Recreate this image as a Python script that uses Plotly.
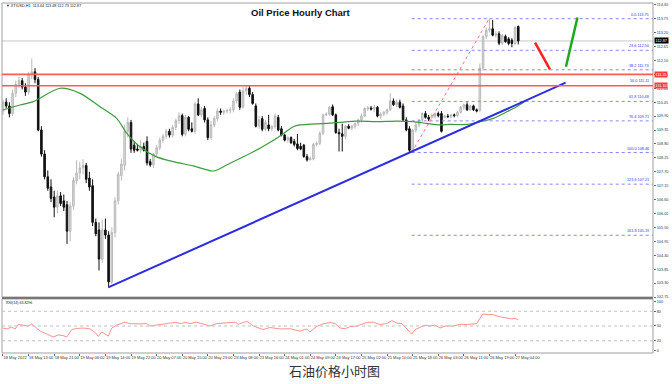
import plotly.graph_objects as go

# ---------------- data ----------------
opens = [110.10, 110.45, 110.30, 110.00, 110.80, 111.15, 111.30, 111.05, 110.85, 111.55,
         111.65, 111.35, 109.35, 108.40, 107.50, 107.10, 106.70, 106.30, 106.75, 106.55,
         106.40, 105.35, 106.35, 107.35, 107.65, 107.85, 107.95, 107.45, 107.15, 105.70,
         105.40, 104.25, 105.40, 105.20, 103.35, 105.30, 106.55, 107.55, 107.95, 109.30,
         109.65, 108.75, 108.60, 108.55, 108.70, 108.90, 108.10, 107.97, 108.40, 108.65,
         108.95, 109.10, 109.30, 109.15, 109.45, 109.72, 109.92, 109.18, 109.85, 109.40,
         109.30, 110.38, 109.95, 110.20, 109.75, 109.05, 109.55, 109.80, 110.10, 110.05,
         110.10, 110.12, 110.15, 110.50, 110.85, 110.25, 110.90, 111.00, 110.75, 110.30,
         109.50, 109.80, 109.38, 109.55, 109.40, 109.48, 109.85, 109.40, 109.15, 108.95,
         109.05, 108.90, 108.80, 108.70, 108.75, 108.30, 108.17, 108.20, 108.78, 108.82,
         109.22, 109.95, 109.97, 110.27, 109.95, 109.25, 109.20, 109.10, 109.50, 109.42,
         109.50, 109.60, 109.75, 109.90, 110.20, 110.22, 110.18, 110.25, 109.90, 109.98,
         110.05, 110.15, 110.50, 110.35, 110.45, 110.30, 109.75, 109.40, 108.55, 109.35,
         109.55, 109.75, 110.00, 109.85, 109.85, 109.88, 110.00, 110.00, 109.85, 109.90,
         109.88, 109.95, 109.92, 110.05, 110.25, 110.35, 110.15, 110.30, 110.15, 110.12,
         111.80, 113.04, 113.30, 113.35, 113.10, 113.15, 112.78, 113.05, 112.95, 112.90,
         112.77, 113.44]
highs = [110.55, 110.60, 110.45, 110.95, 111.30, 111.45, 111.40, 111.20, 111.65, 112.18,
         111.80, 111.45, 109.50, 108.55, 107.75, 107.40, 106.95, 106.95, 106.90, 106.80,
         106.55, 106.50, 107.50, 108.15, 108.10, 108.20, 108.05, 107.70, 107.40, 105.85,
         105.70, 105.80, 105.85, 105.35, 105.50, 106.70, 107.70, 108.20, 109.55, 109.85,
         109.75, 108.90, 108.80, 108.95, 108.85, 109.10, 108.20, 108.45, 108.75, 109.05,
         109.20, 109.40, 109.40, 109.55, 109.80, 110.05, 110.00, 109.95, 109.90, 109.65,
         110.45, 110.60, 110.25, 110.30, 109.85, 109.70, 109.90, 110.20, 110.20, 110.15,
         110.20, 110.25, 110.60, 110.85, 110.95, 111.05, 111.13, 111.10, 110.85, 110.40,
         109.90, 109.90, 109.75, 109.95, 109.55, 110.00, 109.95, 109.50, 109.20, 109.10,
         109.10, 109.00, 109.20, 108.85, 108.80, 108.40, 108.30, 108.85, 108.90, 109.30,
         110.00, 110.05, 110.30, 110.36, 110.00, 109.40, 109.60, 109.55, 109.58, 109.55,
         109.65, 109.80, 110.00, 110.25, 110.30, 110.30, 110.35, 110.30, 110.05, 110.10,
         110.20, 110.80, 110.60, 110.55, 110.55, 110.40, 109.85, 109.50, 109.40, 109.65,
         109.80, 110.05, 110.10, 109.95, 110.00, 110.05, 110.08, 110.10, 109.95, 109.98,
         109.98, 110.00, 110.10, 110.30, 110.40, 110.45, 110.35, 110.35, 110.20, 111.98,
         113.10, 113.40, 113.75, 113.70, 113.25, 113.25, 113.15, 113.12, 113.02, 112.98,
         113.45, 113.48]
lows = [109.95, 110.20, 109.85, 109.90, 110.65, 111.00, 110.95, 110.70, 110.75, 111.35,
        111.20, 109.30, 108.30, 107.40, 106.95, 106.50, 105.90, 106.05, 106.35, 106.15,
        104.85, 104.95, 106.20, 107.20, 107.40, 107.60, 107.25, 106.95, 105.55, 105.15,
        103.80, 104.10, 105.05, 103.13, 103.25, 105.10, 106.40, 107.35, 107.75, 109.05,
        108.45, 108.45, 108.50, 108.45, 108.50, 107.95, 107.90, 107.85, 108.30, 108.55,
        108.85, 109.00, 109.05, 109.05, 109.35, 109.60, 109.10, 109.10, 109.30, 109.25,
        109.20, 109.90, 109.85, 109.65, 108.95, 108.95, 109.45, 109.70, 109.95, 109.95,
        110.00, 110.00, 110.05, 110.40, 110.15, 110.20, 110.75, 110.65, 110.35, 109.45,
        109.40, 109.30, 109.30, 109.30, 109.30, 109.40, 109.30, 109.10, 108.90, 108.85,
        108.80, 108.70, 108.55, 108.55, 108.25, 108.10, 108.15, 108.15, 108.70, 108.75,
        109.15, 109.90, 109.92, 109.90, 109.20, 108.50, 108.50, 109.00, 109.38, 109.35,
        109.40, 109.50, 109.65, 109.85, 110.10, 110.12, 110.05, 109.85, 109.80, 109.90,
        109.95, 110.10, 110.30, 110.25, 110.20, 109.70, 109.30, 108.46, 108.50, 109.25,
        109.45, 109.65, 109.80, 109.70, 109.80, 109.80, 109.85, 109.25, 109.80, 109.82,
        109.80, 109.85, 109.88, 110.00, 110.15, 110.10, 110.10, 110.10, 110.05, 110.05,
        111.70, 112.95, 113.20, 113.05, 113.00, 112.70, 112.70, 112.80, 112.70, 112.62,
        112.70, 112.73]
closes = [110.45, 110.30, 110.00, 110.80, 111.15, 111.30, 111.05, 110.85, 111.55, 111.65,
          111.35, 109.35, 108.40, 107.50, 107.05, 106.65, 106.30, 106.75, 106.45, 106.30,
          105.35, 106.35, 107.35, 107.65, 107.85, 107.95, 107.40, 107.10, 105.70, 105.25,
          104.25, 105.40, 105.20, 103.35, 105.30, 106.55, 107.60, 108.00, 109.30, 109.65,
          108.60, 108.55, 108.55, 108.70, 108.55, 108.05, 107.97, 108.40, 108.65, 108.95,
          109.10, 109.30, 109.15, 109.45, 109.72, 109.92, 109.18, 109.85, 109.38, 109.30,
          110.38, 109.95, 110.15, 109.75, 109.05, 109.55, 109.80, 110.10, 110.05, 110.10,
          110.12, 110.15, 110.50, 110.78, 110.25, 110.90, 111.00, 110.75, 110.40, 109.50,
          109.75, 109.38, 109.65, 109.40, 109.48, 109.90, 109.35, 109.15, 108.95, 109.05,
          108.85, 108.78, 108.62, 108.60, 108.30, 108.17, 108.22, 108.78, 108.82, 109.22,
          109.95, 109.97, 110.25, 109.95, 109.25, 109.20, 109.10, 109.50, 109.42, 109.50,
          109.60, 109.75, 109.90, 110.20, 110.22, 110.18, 110.25, 109.90, 109.98, 110.05,
          110.15, 110.50, 110.35, 110.45, 110.25, 109.75, 109.35, 108.55, 109.35, 109.55,
          109.75, 110.00, 109.85, 109.78, 109.92, 110.00, 109.92, 109.30, 109.90, 109.88,
          109.95, 109.92, 110.05, 110.25, 110.35, 110.15, 110.30, 110.15, 110.10, 111.80,
          113.04, 113.30, 113.35, 113.10, 113.15, 112.78, 113.08, 112.84, 112.77, 112.77,
          113.40, 112.87]

# moving average read at sampled bars
ma_bar = [0, 5.3, 9.5, 17.8, 24.1, 30.3, 35.5, 38.7, 42.8, 48.0, 53.2, 59.5, 65.7, 69.9,
          75.1, 80.3, 85.5, 90.7, 92.8, 98.0, 104.3, 110.5, 116.8, 123.0, 128.2, 132.4,
          136.6, 139.7, 144.9, 149.1, 153.2, 157.4, 160.5, 163.7]
ma_val = [110.14, 110.34, 110.47, 111.00, 110.80, 110.27, 109.81, 109.22, 108.69, 108.29,
          108.10, 107.93, 107.73, 107.97, 108.29, 108.63, 109.02, 109.48, 109.55, 109.59,
          109.64, 109.70, 109.68, 109.70, 109.68, 109.61, 109.55, 109.57, 109.57, 109.68,
          109.81, 110.07, 110.27, 110.54]

# RSI(14) read at sampled bars
rsi_bar = [0, 1.2, 2.7, 3.8, 4.8, 6.3, 7.9, 9.0, 10.0, 11.6, 13.7, 15.7, 17.3, 18.8, 19.9,
           21.5, 23.0, 25.1, 27.2, 28.8, 29.8, 30.8, 31.9, 32.9, 34.0, 35.5, 38.1, 39.7,
           42.8, 44.9, 45.9, 48.0, 51.2, 53.8, 55.8, 56.9, 58.4, 60.5, 62.1, 64.7, 66.8,
           70.9, 72.5, 73.5, 76.2, 78.2, 81.3, 83.4, 86.6, 89.7, 92.8, 94.9, 95.9, 98.0,
           99.6, 102.2, 103.8, 105.3, 106.9, 108.4, 110.5, 112.1, 113.7, 115.7, 117.8,
           119.9, 121.5, 123.0, 124.6, 126.2, 127.7, 128.8, 130.3, 131.9, 133.4, 135.0,
           136.6, 138.1, 140.7, 142.8, 144.9, 148.0, 149.9, 151.7, 153.2, 155.3, 157.4,
           159.0, 160.0, 161.0]
rsi_val = [45.8, 44.0, 47.6, 44.0, 53.0, 51.0, 50.0, 54.0, 48.7, 39.6, 33.6, 27.6, 31.8,
           30.5, 27.6, 42.7, 45.0, 45.8, 44.0, 36.7, 28.7, 37.8, 33.6, 29.4, 45.8, 51.8,
           57.8, 54.9, 54.2, 54.9, 50.0, 52.4, 54.9, 57.3, 54.9, 57.8, 54.9, 57.8, 54.9,
           50.0, 54.9, 56.0, 57.8, 53.6, 59.6, 50.0, 42.7, 46.9, 44.0, 44.5, 39.6, 44.0,
           37.8, 48.7, 53.6, 57.3, 54.9, 45.8, 44.5, 48.7, 50.0, 53.6, 57.3, 57.8, 53.0,
           54.9, 60.9, 56.0, 54.9, 44.0, 33.6, 42.7, 47.6, 51.8, 50.0, 51.8, 45.8, 50.0,
           50.0, 53.6, 53.0, 54.9, 74.2, 74.2, 73.0, 68.7, 66.9, 64.5, 65.8, 62.7]
rsi_levels = [20, 50, 80]
rsi_ticks = [0, 20, 50, 80, 100]

# time axis labels (every 8 hourly bars)
x_labels = ["18 May 2022", "18 May 13:00", "18 May 21:00", "19 May 06:00", "19 May 14:00",
            "19 May 22:00", "20 May 07:00", "20 May 15:00", "20 May 23:00", "23 May 08:00",
            "23 May 16:00", "24 May 01:00", "24 May 09:00", "24 May 17:00", "25 May 02:00",
            "25 May 10:00", "25 May 18:00", "26 May 03:00", "26 May 11:00", "26 May 19:00",
            "27 May 04:00"]
x_label_step = 8

# drawing objects
red_levels = [111.55, 111.10]
current_price = 112.87
trend_bars = [32.9, 175.8]
trend_prices = [103.13, 111.22]
fib_bars = [127.7, 151.9]
fib_prices = [108.46, 113.75]
fib_ratios = ["0.0", "23.6", "38.2", "50.0", "61.8", "76.4", "100.0", "123.6", "161.8"]
fib_levels = [113.75, 112.50, 111.73, 111.11, 110.48, 109.71, 108.46, 107.21, 105.19]
down_arrow_bars = [166.25, 170.9]
down_arrow_prices = [112.80, 111.75]
up_arrow_bars = [175.9, 179.5]
up_arrow_prices = [111.85, 113.80]

header_text = "\u25BC XTIUSD,H1  113.44 113.48 112.73 112.87"
rsi_text = "RSI(14) 63.8296"
title_text = "Oil Price Hourly Chart"
caption_text = "石油价格小时图"

# ---------------- figure ----------------
bars = list(range(len(closes)))
x_range = [-0.31, 203.1]
y_range = [102.75, 114.37]
main_dom = [0.16, 1.0]
rsi_dom = [0.0, 0.1543]
small = "Liberation Sans"

fig = go.Figure()

fig.add_trace(go.Candlestick(
    x=bars, open=opens, high=highs, low=lows, close=closes,
    increasing=dict(line=dict(color="#b8b8b8", width=1), fillcolor="#e0e0e0"),
    decreasing=dict(line=dict(color="#111111", width=1), fillcolor="#111111"),
    whiskerwidth=0, xaxis="x", yaxis="y", showlegend=False, hoverinfo="skip"))

fig.add_trace(go.Scatter(x=ma_bar, y=ma_val, mode="lines", xaxis="x", yaxis="y",
                         line=dict(color="#3d9b3d", width=1.2, shape="spline", smoothing=0.8),
                         showlegend=False, hoverinfo="skip"))

# fib retracement lines
for lvl in fib_levels:
    fig.add_trace(go.Scatter(x=[fib_bars[0], x_range[1]], y=[lvl, lvl], mode="lines",
                             xaxis="x", yaxis="y",
                             line=dict(color="#8585ff", width=1, dash="dot"),
                             showlegend=False, hoverinfo="skip"))
fig.add_trace(go.Scatter(x=fib_bars, y=fib_prices, mode="lines", xaxis="x", yaxis="y",
                         line=dict(color="#ff7070", width=1, dash="dot"),
                         showlegend=False, hoverinfo="skip"))

fig.add_trace(go.Scatter(x=trend_bars, y=trend_prices, mode="lines", xaxis="x", yaxis="y",
                         line=dict(color="#2b2be0", width=2), showlegend=False, hoverinfo="skip"))
fig.add_trace(go.Scatter(x=down_arrow_bars, y=down_arrow_prices, mode="lines", xaxis="x", yaxis="y",
                         line=dict(color="#ff2020", width=2.5), showlegend=False, hoverinfo="skip"))
fig.add_trace(go.Scatter(x=up_arrow_bars, y=up_arrow_prices, mode="lines", xaxis="x", yaxis="y",
                         line=dict(color="#1fa81f", width=2.5), showlegend=False, hoverinfo="skip"))

fig.add_trace(go.Scatter(x=rsi_bar, y=rsi_val, mode="lines", xaxis="x", yaxis="y2",
                         line=dict(color="#ff9090", width=1), showlegend=False, hoverinfo="skip"))

shapes = []
# panel frames
shapes.append(dict(type="rect", xref="paper", yref="paper", x0=0, x1=1, y0=main_dom[0], y1=main_dom[1],
                   line=dict(color="#a0a0a0", width=1)))
shapes.append(dict(type="rect", xref="paper", yref="paper", x0=0, x1=1, y0=rsi_dom[0], y1=rsi_dom[1],
                   line=dict(color="#a0a0a0", width=1)))
shapes.append(dict(type="line", xref="paper", yref="paper", x0=0, x1=1,
                   y0=(main_dom[0] + rsi_dom[1]) / 2, y1=(main_dom[0] + rsi_dom[1]) / 2,
                   line=dict(color="#777777", width=2)))
# current price line
shapes.append(dict(type="line", xref="paper", yref="y", x0=0, x1=1, y0=current_price, y1=current_price,
                   line=dict(color="#c8c8c8", width=1), layer="below"))
# red support/resistance lines
for lvl in red_levels:
    shapes.append(dict(type="line", xref="paper", yref="y", x0=0, x1=1, y0=lvl, y1=lvl,
                       line=dict(color="#ff5a5a", width=1.6)))
# RSI levels
for lvl in rsi_levels:
    shapes.append(dict(type="line", xref="paper", yref="y2", x0=0, x1=1, y0=lvl, y1=lvl,
                       line=dict(color="#c0c0c0", width=1, dash="dot")))

annotations = []
for r, lvl in zip(fib_ratios, fib_levels):
    annotations.append(dict(xref="paper", yref="y", x=0.997, y=lvl, xanchor="right", yanchor="bottom",
                            text=f"{r} {lvl:.2f}", showarrow=False,
                            font=dict(family=small, size=3.8, color="#3030ff")))
for lvl in red_levels:
    annotations.append(dict(xref="paper", yref="y", x=1, y=lvl, xanchor="left", yanchor="middle",
                            xshift=1, text=f"{lvl:.2f}", showarrow=False, bgcolor="#ff3b3b",
                            borderpad=0.6, font=dict(family=small, size=3.8, color="white")))
annotations.append(dict(xref="paper", yref="y", x=1, y=current_price, xanchor="left", yanchor="middle",
                        xshift=1, text=f"{current_price:.2f}", showarrow=False, bgcolor="#000000",
                        borderpad=0.6, font=dict(family=small, size=3.8, color="white")))
annotations.append(dict(xref="paper", yref="paper", x=0.003, y=0.991, xanchor="left", yanchor="middle",
                        text=header_text, showarrow=False,
                        font=dict(family=small, size=3.8, color="#222222")))
annotations.append(dict(xref="paper", yref="paper", x=0.003, y=0.143, xanchor="left", yanchor="middle",
                        text=rsi_text, showarrow=False,
                        font=dict(family=small, size=3.6, color="#222222")))
annotations.append(dict(xref="paper", yref="paper", x=0.459, y=0.974, xanchor="center", yanchor="middle",
                        text=f"<b>{title_text}</b>", showarrow=False,
                        font=dict(family="Liberation Sans", size=9.5, color="#111111")))
annotations.append(dict(xref="paper", yref="paper", x=0.511, y=-0.0506, xanchor="center", yanchor="middle",
                        text=caption_text, showarrow=False,
                        font=dict(family="Noto Sans CJK SC", size=13, color="#333333")))

fig.update_layout(
    width=672, height=384,
    margin=dict(l=2, r=19, t=3, b=31),
    paper_bgcolor="white", plot_bgcolor="white",
    showlegend=False,
    hovermode=False,
    xaxis=dict(range=x_range, anchor="y2", domain=[0, 1],
               tickvals=[i * x_label_step for i in range(len(x_labels))], ticktext=x_labels,
               tickangle=0,
               ticklabelposition="outside right", ticks="outside", ticklen=2, tickcolor="#666",
               tickfont=dict(family=small, size=4, color="#333"),
               showgrid=False, zeroline=False, showline=False,
               rangeslider=dict(visible=False)),
    yaxis=dict(domain=main_dom, range=y_range, side="right", anchor="x",
               tick0=102.75, dtick=0.55, tickformat=".2f", ticks="outside", ticklen=2, tickcolor="#666",
               tickfont=dict(family=small, size=3.8, color="#333"),
               showgrid=False, zeroline=False, showline=False),
    yaxis2=dict(domain=rsi_dom, range=[-5, 105], side="right", anchor="x",
                tickvals=rsi_ticks, ticks="outside", ticklen=2, tickcolor="#666",
                tickfont=dict(family=small, size=3.8, color="#333"),
                showgrid=False, zeroline=False, showline=False),
    shapes=shapes,
    annotations=annotations,
)

fig.write_html("out.html", config={"displayModeBar": False, "staticPlot": True},
               post_script="document.body.style.margin='0';document.body.style.overflow='hidden';")
